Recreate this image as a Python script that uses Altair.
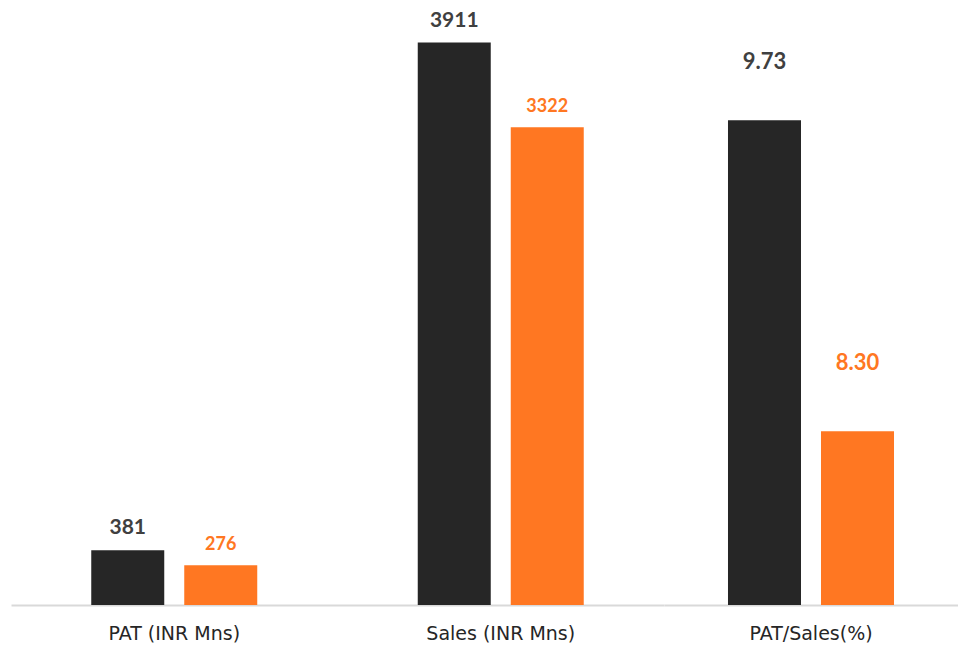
import altair as alt
import pandas as pd

categories = ["PAT (INR Mns)", "Sales (INR Mns)", "PAT/Sales(%)"]
series = ["Series 1", "Series 2"]
values_s1 = [381, 3911, 9.73]
values_s2 = [276, 3322, 8.30]
left_domain_max = 4151
pct_domain = [7.5, 10.247]

DARK = "#262626"
ORANGE = "#FF7722"
DARK_LABEL = "#404040"

rows = []
for s, vals in zip(series, [values_s1, values_s2]):
    for c, v in zip(categories, vals):
        lab = f"{v:.2f}" if "%" in c else f"{v:.0f}"
        rows.append({"category": c, "series": s, "value": v, "label": lab})
df = pd.DataFrame(rows)

left_df = df[df["category"].isin(categories[:2])]
right_df = df[df["category"] == categories[2]]


def panel(data, cats, width, ydomain, po2, dark_size, orange_size, dy_dark, dy_orange, base_val):
    base = alt.Chart(data).encode(
        x=alt.X(
            "category:N",
            sort=cats,
            scale=alt.Scale(paddingInner=0, paddingOuter=0),
            axis=alt.Axis(
                title=None,
                labelAngle=0,
                ticks=False,
                domainColor="#D9D9D9",
                domainWidth=2,
                labelFont="DejaVu Sans",
                labelFontSize=19,
                labelColor=DARK,
                labelPadding=19,
            ),
        ),
        xOffset=alt.XOffset(
            "series:N",
            sort=series,
            scale=alt.Scale(paddingInner=0.215, paddingOuter=po2),
        ),
    )
    yscale = alt.Scale(domain=ydomain, nice=False, zero=False)
    bars = base.mark_bar().encode(
        y=alt.Y("value:Q", scale=yscale, axis=None),
        y2=alt.datum(base_val),
        color=alt.Color(
            "series:N", scale=alt.Scale(domain=series, range=[DARK, ORANGE]), legend=None
        ),
    )
    t1 = base.transform_filter(alt.datum.series == series[0]).mark_text(
        font="Lato", fontWeight="bold", fontSize=dark_size, color=DARK_LABEL,
        baseline="alphabetic", dy=dy_dark,
    ).encode(y=alt.Y("value:Q", scale=yscale, axis=None), text="label:N")
    t2 = base.transform_filter(alt.datum.series == series[1]).mark_text(
        font="Lato", fontWeight="bold", fontSize=orange_size, color=ORANGE,
        baseline="alphabetic", dy=dy_orange,
    ).encode(y=alt.Y("value:Q", scale=yscale, axis=None), text="label:N")
    return alt.layer(bars, t1, t2).properties(width=width, height=597)


left = panel(left_df, categories[:2], 653, [0, left_domain_max], 0.863, 21, 18, -16, -15, 0)
right = panel(right_df, categories[2:], 294, pct_domain, 0.688, 22, 22, -51, -61, pct_domain[0])

chart = (
    alt.hconcat(left, right, spacing=0)
    .resolve_scale(xOffset="independent", x="independent", y="independent")
    .properties(
        padding={"left": 3, "top": 0, "right": 0, "bottom": 0},
        background="white",
    )
    .configure_view(stroke=None, strokeWidth=0)
)

chart.save("out.html", embed_options={"renderer": "svg", "actions": False})
